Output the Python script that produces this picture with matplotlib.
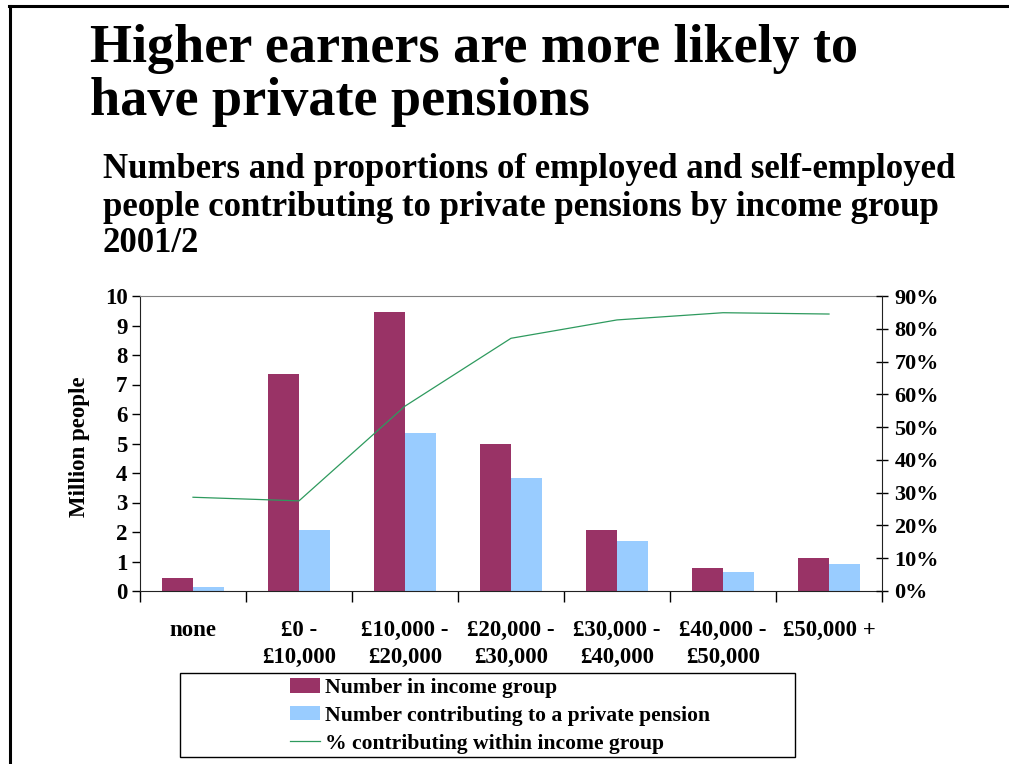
import matplotlib.pyplot as plt
from matplotlib.lines import Line2D
from matplotlib.patches import Rectangle
from matplotlib.ticker import PercentFormatter

income_groups = [
    "none",
    "£0 -\n£10,000",
    "£10,000 -\n£20,000",
    "£20,000 -\n£30,000",
    "£30,000 -\n£40,000",
    "£40,000 -\n£50,000",
    "£50,000 +",
]
number_in_group = [0.45, 7.35, 9.46, 5.0, 2.06, 0.77, 1.12]
number_contributing = [0.13, 2.06, 5.36, 3.84, 1.69, 0.64, 0.91]
pct_contributing = [0.286, 0.275, 0.564, 0.771, 0.827, 0.849, 0.845]

title_lines = ["Higher earners are more likely to", "have private pensions"]
subtitle_lines = [
    "Numbers and proportions of employed and self-employed",
    "people contributing to private pensions by income group",
    "2001/2",
]

plt.rcParams["font.family"] = ["Liberation Serif", "DejaVu Serif"]
plt.rcParams["font.weight"] = "bold"

MAROON = "#993366"
LIGHT_BLUE = "#99CCFF"
GREEN = "#2E9A5E"
W, H = 1009, 764

fig = plt.figure(figsize=(W / 100, H / 100), dpi=100)
ax = fig.add_axes([140 / W, 1 - 591 / H, 742 / W, 295 / H])

x = list(range(len(income_groups)))
w = 0.29
ax.bar([i - w / 2 for i in x], number_in_group, width=w, color=MAROON,
       label="Number in income group", zorder=2)
ax.bar([i + w / 2 for i in x], number_contributing, width=w, color=LIGHT_BLUE,
       label="Number contributing to a private pension", zorder=2)

ax.set_xlim(-0.5, len(x) - 0.5)
ax.set_ylim(0, 10)
ax.set_yticks(range(0, 11))
ax.set_xticks([i - 0.5 for i in range(len(x) + 1)])
ax.set_xticklabels([])
ax.set_xticks(x, minor=True)
ax.set_xticklabels(income_groups, minor=True, fontsize=16.5, fontweight="bold",
                   linespacing=1.35, va="top")
ax.tick_params(axis="x", which="major", direction="out", length=8, width=1)
ax.tick_params(axis="x", which="minor", length=0, pad=21)
ax.tick_params(axis="y", direction="out", length=6, width=1, labelsize=16.5, pad=3)
for lab in ax.get_yticklabels():
    lab.set_fontweight("bold")

ax.spines["top"].set_color("#808080")
ax.spines["right"].set_visible(False)
for s in ("left", "bottom"):
    ax.spines[s].set_color("#222222")

ax2 = ax.twinx()
ax2.plot(x, pct_contributing, color=GREEN, linewidth=0.9,
         label="% contributing within income group", zorder=3)
ax2.set_ylim(0, 0.9)
ax2.set_yticks([i / 10 for i in range(10)])
ax2.yaxis.set_major_formatter(PercentFormatter(1.0, decimals=0))
ax2.tick_params(axis="y", direction="inout", length=8, width=1, labelsize=16, pad=5)
for lab in ax2.get_yticklabels():
    lab.set_fontweight("bold")
for s in ("top", "left", "bottom"):
    ax2.spines[s].set_visible(False)
ax2.spines["right"].set_color("#222222")

fig.text(80 / W, 1 - 447 / H, "Million people", rotation=90,
         ha="center", va="center", fontsize=16.5, fontweight="bold")

# headline and chart description, one baseline per line
for line, base in zip(title_lines, [62, 115]):
    fig.text(90 / W, 1 - base / H, line, ha="left", va="baseline",
             fontsize=39, fontweight="bold")
for line, base in zip(subtitle_lines, [178, 216, 252]):
    fig.text(103 / W, 1 - base / H, line, ha="left", va="baseline",
             fontsize=25, fontweight="bold")

# legend box below the plot
fig.add_artist(Rectangle((180 / W, 1 - 757 / H), 615 / W, 84 / H,
                         transform=fig.transFigure, facecolor="none",
                         edgecolor="black", linewidth=1))
h1, l1 = ax.get_legend_handles_labels()
h2, l2 = ax2.get_legend_handles_labels()
fig.legend(h1 + h2, l1 + l2, loc="upper left",
           bbox_to_anchor=(290 / W, 1 - 678 / H), frameon=False,
           prop={"size": 15.6, "weight": "bold"}, handlelength=1.4,
           handleheight=0.64, handletextpad=0.23, labelspacing=0.36,
           borderaxespad=0, borderpad=0)

# slide border on the top and left edges
fig.add_artist(Line2D([10 / W, 10 / W], [0, 1 - 6 / H],
                      transform=fig.transFigure, color="black", linewidth=2.2))
fig.add_artist(Line2D([9 / W, 1], [1 - 6 / H, 1 - 6 / H],
                      transform=fig.transFigure, color="black", linewidth=2.2))

fig.savefig("out.png", dpi=100)
